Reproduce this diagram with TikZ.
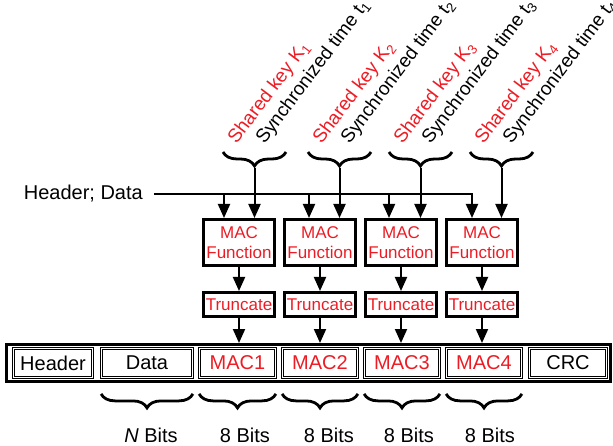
\documentclass[tikz,border=0pt]{standalone}
\usepackage{fontspec}
\setmainfont{Liberation Sans}
\usetikzlibrary{positioning,arrows.meta,decorations.pathreplacing}
\definecolor{macred}{RGB}{237,28,36}

\begin{document}
\begin{tikzpicture}[x=1pt,y=-1pt,
    every node/.style={font=\fontsize{20}{22}\selectfont},
    box/.style={draw,line width=3pt,inner sep=0pt,text=macred,align=center,minimum width=71pt,
      font=\fontsize{17}{20}\selectfont},
    field/.style={draw,line width=1.2pt,double=white,double distance=1pt,inner sep=0pt,minimum height=28.6pt},
    arr/.style={line width=2pt,-{Triangle[width=12pt,length=14pt]}},
    curly/.style={line width=2.8pt,decorate,decoration={brace,amplitude=14pt}},
    tag/.style={rotate=53,anchor=base west,inner sep=0pt,font=\fontsize{19}{21}\selectfont}]
  \useasboundingbox (0,0) rectangle (613,446);

  % MAC function and truncation per key
  \foreach \i/\x in {1/239,2/320,3/401,4/482}{
    \node[box,minimum height=46pt] (mf\i) at (\x,242.5) {MAC\\Function};
    \node[box,minimum height=24pt] (tr\i) at (\x,304.5) {Truncate};
    \draw[arr] (mf\i) -- (tr\i);
  }

  % the frame
  \node[draw,line width=3pt,inner sep=0pt,minimum width=604pt,minimum height=37pt] (pkt) at (308.5,363) {};
  \foreach \n/\x/\w/\t/\c in {hdr/53/82/Header/black,dat/147/94/Data/black,
      mac1/237.5/79/MAC1/macred,mac2/320/78/MAC2/macred,mac3/402/78/MAC3/macred,
      mac4/484/78/MAC4/macred,crc/568/80/CRC/black}
    \node[field,minimum width=\w-3.4,text=\c] (\n) at (\x,363) {\t};
  \foreach \i in {1,...,4}
    \draw[arr] (tr\i) -- (tr\i.south |- pkt.north);

  % keys and times
  \foreach \i/\x in {1/254.5,2/339.5,3/420.5,4/501.5}{
    \draw[curly] (\x+31.5,152) -- (\x-31.5,152);
    \coordinate (k\i) at (\x,168);
    \draw[arr] (k\i) -- (k\i |- mf\i.north);
    \node[tag,text=macred] (sk\i) at (\x-18,145) {Shared key K\textsubscript{\i}};
    \node[tag] (st\i) at (\x+10,145) {Synchronized time t\textsubscript{\i}};
  }

  % header and data input
  \node[anchor=east,inner sep=0pt] (hd) at (143,194) {Header; Data};
  \foreach \i/\s in {1/-15,2/-11,3/-12,4/-10}
    \coordinate (h\i) at ([xshift=\s pt]mf\i.north);
  \draw[arr] ([xshift=11pt]hd.east) -| (h4);
  \foreach \i in {1,2,3}
    \draw[arr] (hd.east -| h\i) -- (h\i);

  % sizes
  \foreach \n in {dat,mac1,mac2,mac3,mac4}
    \draw[curly] ([yshift=-16pt]\n.south east) -- ([yshift=-16pt]\n.south west);
  \node (nb) at (151,435) {\textit{N} Bits};
  \foreach \i/\x in {1/245,2/329,3/409,4/490}
    \node (eb\i) at (\x,435) {8 Bits};
\end{tikzpicture}
\end{document}
